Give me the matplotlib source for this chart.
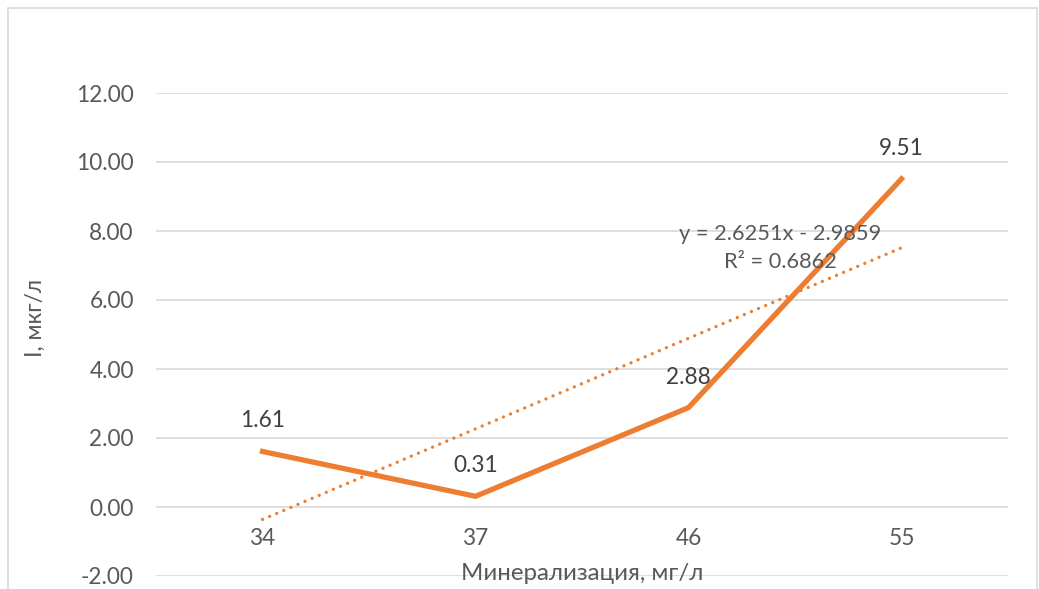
import matplotlib
matplotlib.use("Agg")
import matplotlib.pyplot as plt
import numpy as np

categories = ["34", "37", "46", "55"]
values = [1.61, 0.31, 2.88, 9.51]
labels = ["1.61", "0.31", "2.88", "9.51"]
trend_slope = 2.6251
trend_intercept = -2.9859
trend_text = "y = 2.6251x - 2.9859\nR² = 0.6862"
yticks = [-2, 0, 2, 4, 6, 8, 10, 12]
x_title = "Минерализация, мг/л"
y_title = "I, мкг/л"

plt.rcParams['font.family'] = ['Lato', 'DejaVu Sans']
W, H = 1039, 589
fig = plt.figure(figsize=(W / 100, H / 100), dpi=100)
# plot area in pixels: x 156..1008, y 93..576
ax = fig.add_axes([156 / W, 1 - 576 / H, (1008 - 156) / W, (576 - 93) / H])

orange = "#ED7D31"
grey = "#595959"
fs = 16.3
x = np.arange(1, len(values) + 1)

ax.set_xlim(0.5, len(values) + 0.5)
ax.set_ylim(-2, 12)
ax.set_yticks(yticks)
ax.set_yticklabels([f"{v:.2f}" for v in yticks])
ax.grid(axis='y', color="#D9D9D9", linewidth=1.2)
ax.set_axisbelow(True)
for s in ax.spines.values():
    s.set_visible(False)
ax.tick_params(axis='both', length=0, labelsize=fs, labelcolor=grey)
ax.tick_params(axis='y', pad=16)
ax.set_xticks([])

# category labels below the zero line
for xi, c in zip(x, categories):
    ax.annotate(c, (xi, 0), xytext=(0, -22.5), textcoords='offset points',
                ha='center', va='center', fontsize=fs, color=grey)

ax.plot(x, values, color=orange, linewidth=3.8, solid_joinstyle='miter', zorder=3)

xt = np.array([1, len(values)])
ax.plot(xt, trend_slope * xt + trend_intercept, color=orange, linewidth=2.4,
        linestyle=(0, (0.01, 2.3)), dash_capstyle='round', zorder=2)

for xi, v, l in zip(x, values, labels):
    ax.annotate(l, (xi, v), xytext=(0, 22), textcoords='offset points',
                ha='center', va='center', fontsize=fs, color="#404040")

fig.text(780 / W, 1 - 248 / H, trend_text, ha='center', va='center',
         fontsize=fs - 0.6, color=grey, linespacing=1.45)

fig.text(582 / W, 1 - 574 / H, x_title, ha='center', va='center',
         fontsize=fs + 1, color=grey)
fig.text(35 / W, 1 - 318 / H, y_title, ha='center', va='center',
         fontsize=fs, color=grey, rotation=90)

# chart border
border = plt.Rectangle((8 / W, -0.1), (1037 - 8) / W, 1.1 - 8 / H,
                       transform=fig.transFigure, fill=False,
                       edgecolor="#D9D9D9", linewidth=1.2)
fig.add_artist(border)

fig.savefig("out.png", dpi=100)
